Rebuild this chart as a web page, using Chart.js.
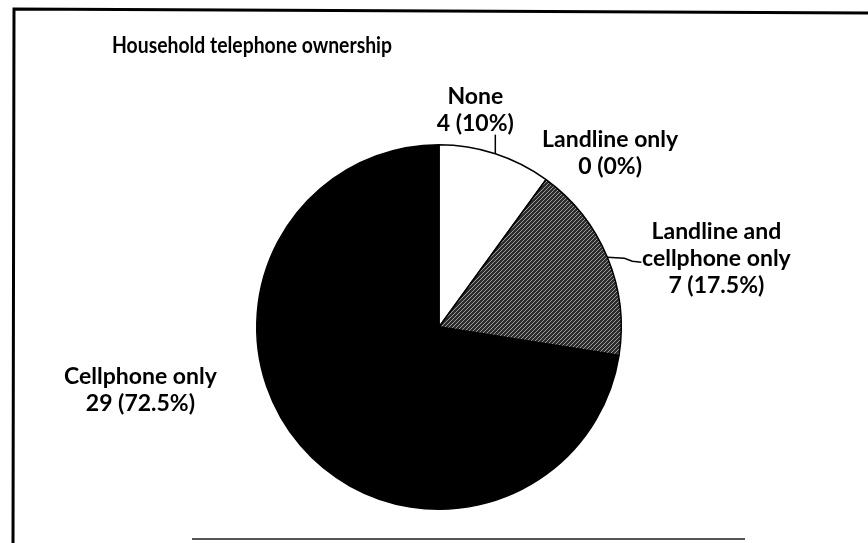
<!DOCTYPE html>
<html>
<head>
<meta charset="utf-8">
<title>Household telephone ownership</title>
<script src="https://cdn.jsdelivr.net/npm/chart.js@4.4.1/dist/chart.umd.min.js"></script>
<style>
    html, body { margin: 0; padding: 0; background: #fff; }
    #wrap { position: relative; width: 868px; height: 543px; }
</style>
</head>
<body>
<div id="wrap"><canvas id="phoneChart"></canvas></div>
<script>
// Survey counts per household (n = 40)
const categories = ['None', 'Landline only', 'Landline and\ncellphone only', 'Cellphone only'];
const counts = [4, 0, 7, 29];

const chartTitle = 'Household telephone ownership';
const labelFont = 'bold 23px Lato, "Open Sans", sans-serif';
const titleFont = 'bold 23px Lato, "Open Sans", sans-serif';
const lineGap = 27;

// Where each label block sits relative to the slice's outer edge (mid angle)
const labelLayout = [
    { dx: -20, dy: -57, leader: [[0, 0], [0, -19]] },
    { dx: 64, dy: -40, leader: null },
    { dx: 109, dy: -26, leader: [[0, 0], [17, 1], [25, 4], [34, 5]] },
    { dx: -160, dy: -69, leader: null }
];

function makeHatch() {
    const c = document.createElement('canvas');
    c.width = 4; c.height = 4;
    const g = c.getContext('2d');
    g.fillStyle = '#2c2c2c';
    g.fillRect(0, 0, 4, 4);
    g.strokeStyle = '#a8a8a8';
    g.lineWidth = 0.9;
    g.beginPath();
    g.moveTo(0, 4); g.lineTo(4, 0);
    g.moveTo(-2, 2); g.lineTo(2, -2);
    g.moveTo(2, 6); g.lineTo(6, 2);
    g.stroke();
    return g.createPattern(c, 'repeat');
}

function pct(v) {
    const total = counts.reduce((a, b) => a + b, 0);
    const p = Math.round(v / total * 1000) / 10;
    return p + '%';
}

const framePlugin = {
    id: 'frame',
    beforeDraw(chart) {
        const ctx = chart.ctx;
        ctx.save();
        ctx.fillStyle = '#fff';
        ctx.fillRect(0, 0, chart.width, chart.height);
        ctx.strokeStyle = '#000';
        ctx.lineWidth = 3;
        ctx.beginPath();
        ctx.moveTo(13, 543);
        ctx.lineTo(14, 9);
        ctx.lineTo(868, 13);
        ctx.stroke();
        ctx.strokeStyle = '#555';
        ctx.lineWidth = 2;
        ctx.beginPath();
        ctx.moveTo(192, 539);
        ctx.lineTo(745, 539);
        ctx.stroke();

        // title, squeezed a little to keep the narrow heading width
        ctx.fillStyle = '#000';
        ctx.font = titleFont;
        ctx.textAlign = 'center';
        ctx.textBaseline = 'middle';
        const w = ctx.measureText(chartTitle).width;
        const sx = Math.min(1, 280 / w);
        ctx.translate(252, 46);
        ctx.scale(sx, 1);
        ctx.fillText(chartTitle, 0, 0);
        ctx.restore();
    }
};

const sliceLabels = {
    id: 'sliceLabels',
    afterDatasetsDraw(chart) {
        const ctx = chart.ctx;
        const meta = chart.getDatasetMeta(0);
        ctx.save();
        ctx.font = labelFont;
        ctx.fillStyle = '#000';
        ctx.textAlign = 'center';
        ctx.textBaseline = 'middle';
        meta.data.forEach((arc, i) => {
            const mid = (arc.startAngle + arc.endAngle) / 2;
            const ex = arc.x + Math.cos(mid) * arc.outerRadius;
            const ey = arc.y + Math.sin(mid) * arc.outerRadius;
            const lay = labelLayout[i];
            if (lay.leader) {
                ctx.strokeStyle = '#000';
                ctx.lineWidth = 1.5;
                ctx.beginPath();
                lay.leader.forEach((p, k) => {
                    if (k === 0) ctx.moveTo(ex + p[0], ey + p[1]);
                    else ctx.lineTo(ex + p[0], ey + p[1]);
                });
                ctx.stroke();
            }
            const lines = categories[i].split('\n');
            lines.push(counts[i] + ' (' + pct(counts[i]) + ')');
            lines.forEach((t, k) => {
                ctx.fillText(t, ex + lay.dx, ey + lay.dy + k * lineGap);
            });
        });
        ctx.restore();
    }
};

const ctx = document.getElementById('phoneChart').getContext('2d');
new Chart(ctx, {
    type: 'pie',
    data: {
        labels: categories,
        datasets: [{
            data: counts,
            backgroundColor: ['#ffffff', '#555555', makeHatch(), '#000000'],
            borderColor: '#000',
            borderWidth: 1.5,
            hoverOffset: 0
        }]
    },
    options: {
        responsive: true,
        maintainAspectRatio: false,
        animation: false,
        layout: { padding: { left: 256, right: 246, top: 144, bottom: 33 } },
        plugins: {
            legend: { display: false },
            tooltip: { enabled: false },
            title: { display: false }
        }
    },
    plugins: [framePlugin, sliceLabels]
});
</script>
</body>
</html>
